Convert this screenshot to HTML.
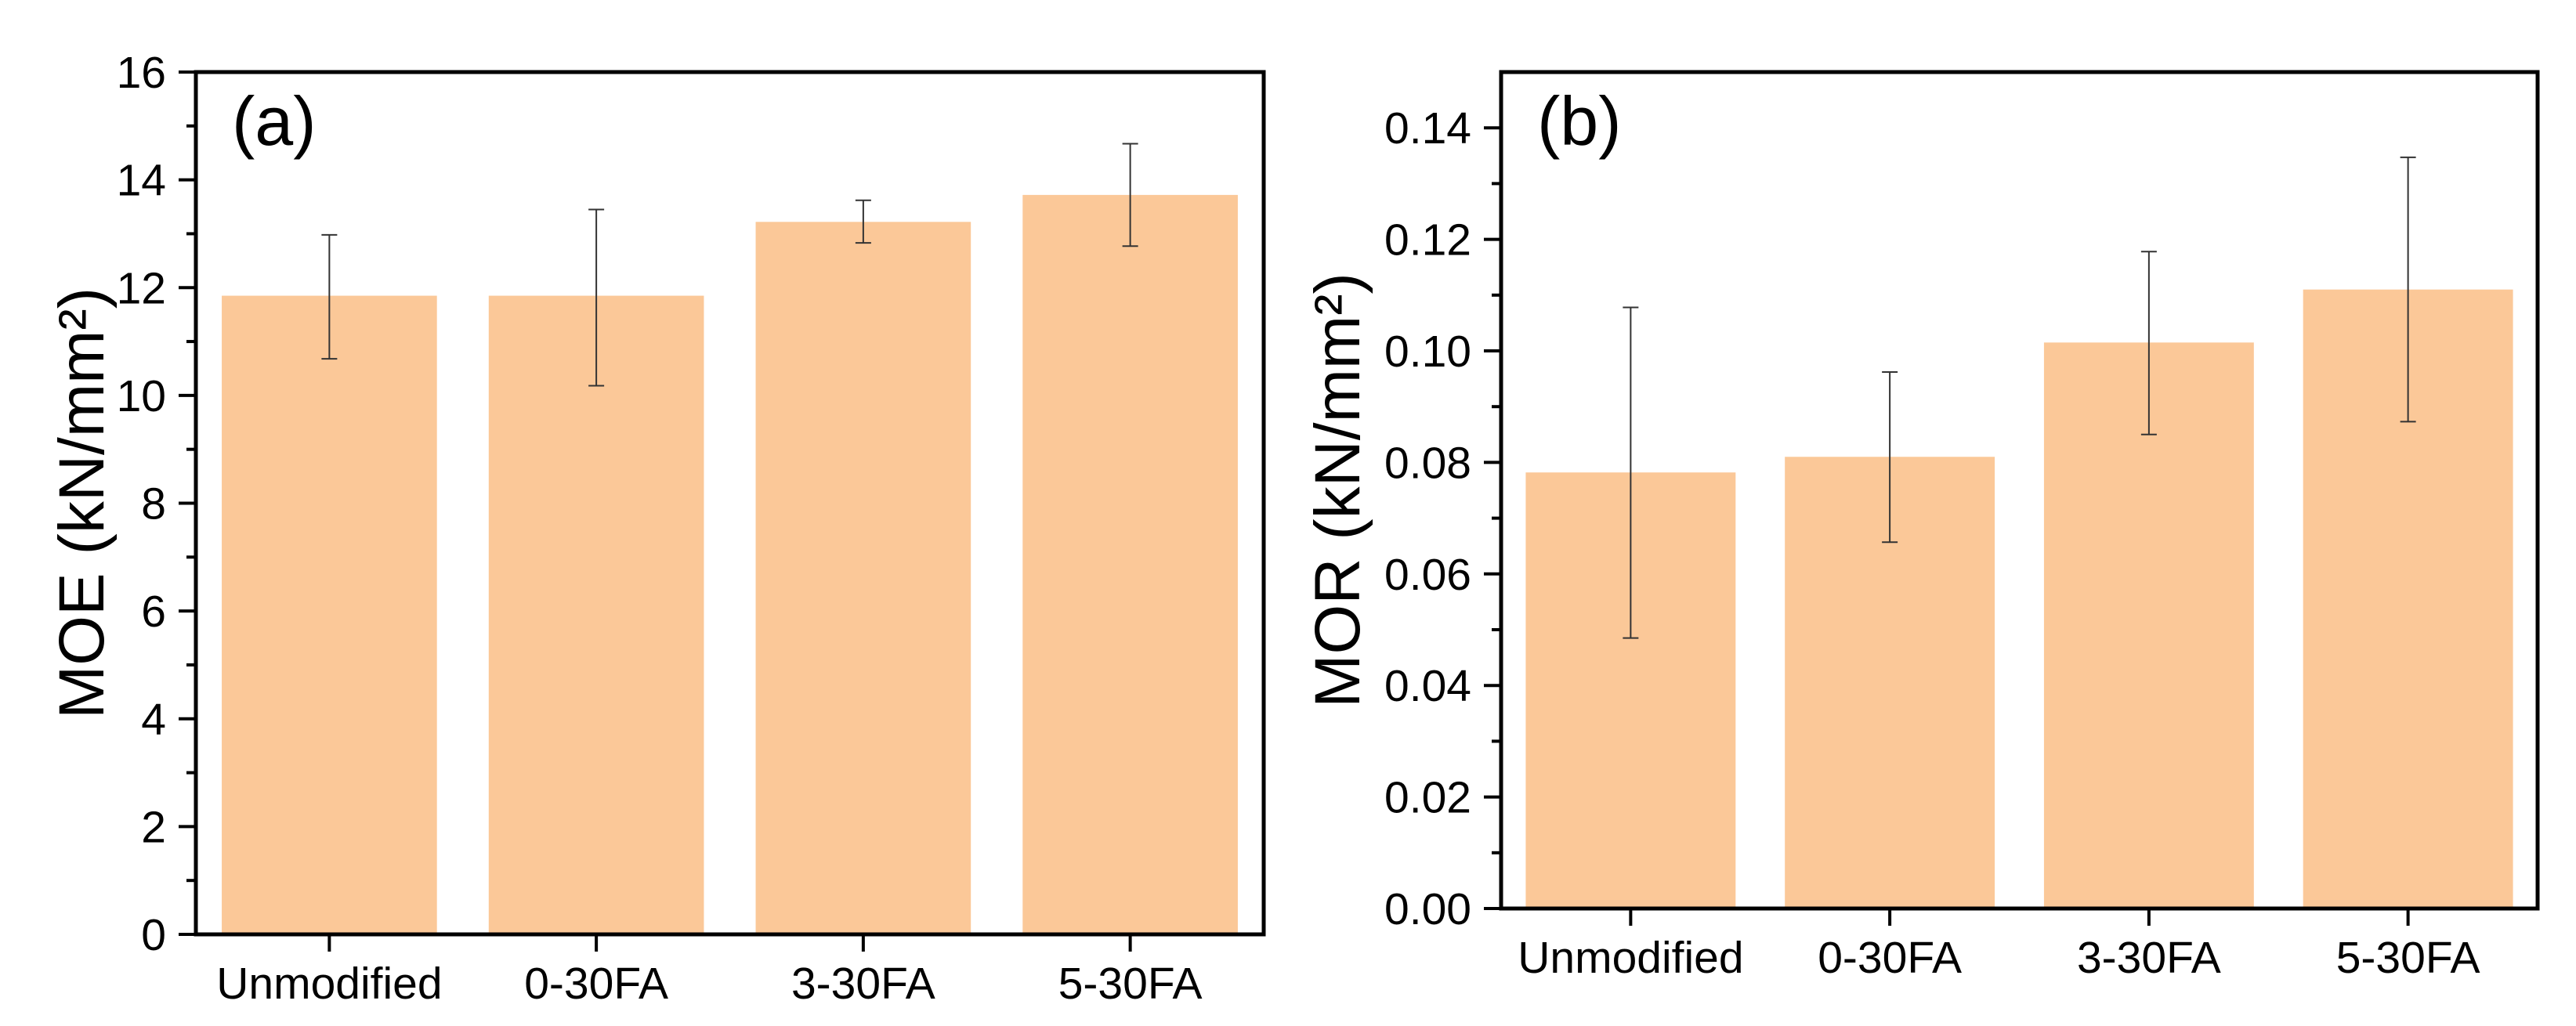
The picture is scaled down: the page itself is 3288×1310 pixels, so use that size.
<!DOCTYPE html>
<html><head><meta charset="utf-8"><style>
html,body{margin:0;padding:0;background:#fff;}
svg{display:block;font-family:"Liberation Sans",Arial,sans-serif;}
</style></head><body>
<svg id="chart" width="3288" height="1310" viewBox="0 0 3288 1310" xmlns="http://www.w3.org/2000/svg"></svg>
<script>
const categories = ["Unmodified", "0-30FA", "3-30FA", "5-30FA"];
const moeValues = [11.85, 11.85, 13.22, 13.72];
const moeLow = [10.68, 10.18, 12.83, 12.77];
const moeHigh = [12.98, 13.45, 13.62, 14.67];
const moeTicks = ["0","2","4","6","8","10","12","14","16"];
const morValues = [0.0782, 0.0810, 0.1015, 0.1110];
const morLow = [0.0485, 0.0657, 0.0850, 0.0873];
const morHigh = [0.1078, 0.0962, 0.1178, 0.1347];
const morTicks = ["0.00","0.02","0.04","0.06","0.08","0.10","0.12","0.14"];

const NS = "http://www.w3.org/2000/svg";
const svg = document.getElementById("chart");
function mk(tag, attrs, parent){
  const e = document.createElementNS(NS, tag);
  for (const k in attrs) e.setAttribute(k, attrs[k]);
  (parent||svg).appendChild(e);
  return e;
}

function panel(cfg){
  const g = mk("g", {});
  
  
  const {L,R,T,B,ymax} = cfg;
  const y = v => B - v/ymax*(B-T);
  const slot = (R-L)/categories.length;
  const xc = i => L + slot*(i+0.5);
  const bw = slot*cfg.barFrac;
  cfg.values.forEach((v,i)=>{
    const r = mk("rect",{x:xc(i)-bw/2,y:y(v),width:bw,height:B-y(v),fill:"#FBC898"},g);
    
    
  });
  cfg.values.forEach((v,i)=>{
    const eg = mk("g",{stroke:"#333",  "stroke-width":2},g);
    
    
    const x = xc(i);
    mk("line",{x1:x,x2:x,y1:y(cfg.low[i]),y2:y(cfg.high[i])},eg);
    mk("line",{x1:x-10,x2:x+10,y1:y(cfg.low[i]),y2:y(cfg.low[i])},eg);
    mk("line",{x1:x-10,x2:x+10,y1:y(cfg.high[i]),y2:y(cfg.high[i])},eg);
  });
  const fr = mk("rect",{x:L,y:T,width:R-L,height:B-T,fill:"none",stroke:"#000","stroke-width":5},g);
  
  
  cfg.ticks.forEach((t,i)=>{
    const v = parseFloat(t);
    const yy = y(v);
    mk("line",{x1:L-22,x2:L,y1:yy,y2:yy,stroke:"#000","stroke-width":4},g);
    const tx = mk("text",{x:L-38,y:yy+20,"text-anchor":"end","font-size":57,fill:"#000"},g);
    tx.textContent = t;
    
    
    const mv = v + cfg.minor;
    if (mv < ymax) mk("line",{x1:L-12,x2:L,y1:y(mv),y2:y(mv),stroke:"#000","stroke-width":4},g);
  });
  categories.forEach((c,i)=>{
    mk("line",{x1:xc(i),x2:xc(i),y1:B,y2:B+22,stroke:"#000","stroke-width":4},g);
    const tx = mk("text",{x:xc(i),y:B+82,"text-anchor":"middle","font-size":57,fill:"#000"},g);
    tx.textContent = c;
    
    
  });
  const cy = (T+B)/2;
  const yt = mk("text",{x:cfg.titleX,y:cy,"text-anchor":"middle","font-size":82,fill:"#000",transform:`rotate(-90 ${cfg.titleX} ${cy})`},g);
  yt.textContent = cfg.title;
  
  
  const pl = mk("text",{x:L+46,y:T+93,"font-size":88,fill:"#000"},g);
  pl.textContent = cfg.letter;
  
  
}

panel({name:"moe-chart",L:250,R:1613,T:92,B:1193,ymax:16,ymaxTickCount:8,minor:1,barFrac:0.806,
  values:moeValues,low:moeLow,high:moeHigh,ticks:moeTicks,title:"MOE (kN/mm²)",titleX:132,letter:"(a)"});
panel({name:"mor-chart",L:1916,R:3239,T:92,B:1160,ymax:0.15,ymaxTickCount:7,minor:0.01,barFrac:0.81,
  values:morValues,low:morLow,high:morHigh,ticks:morTicks,title:"MOR (kN/mm²)",titleX:1735,letter:"(b)"});
</script>
</body></html>
